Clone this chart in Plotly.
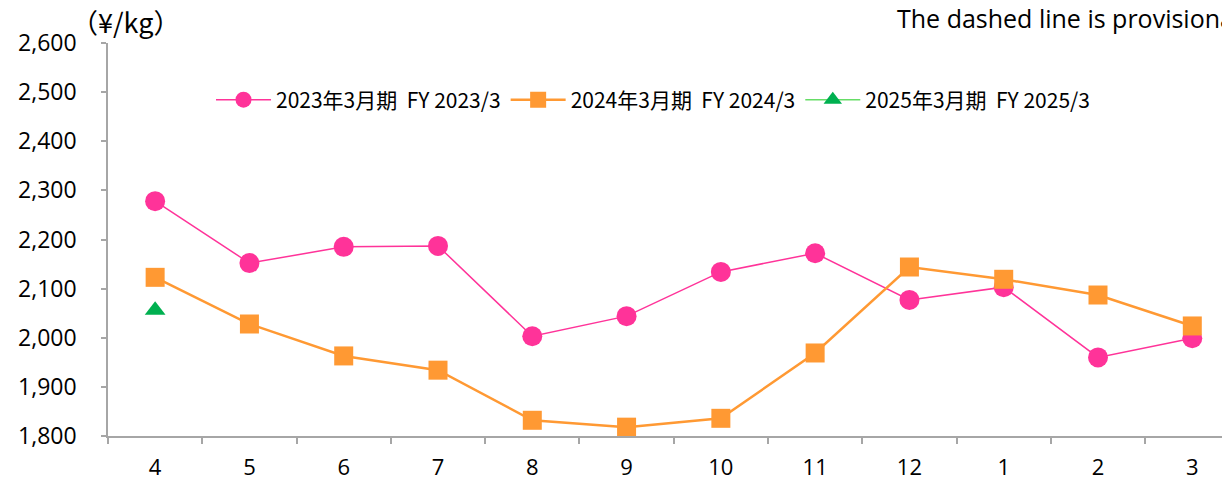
import plotly.graph_objects as go

months = ["4", "5", "6", "7", "8", "9", "10", "11", "12", "1", "2", "3"]
fy2023 = [2278, 2152, 2185, 2187, 2003, 2044, 2134, 2172, 2077, 2103, 1960, 1999]
fy2024 = [2123, 2028, 1963, 1934, 1832, 1818, 1836, 1969, 2144, 2119, 2087, 2024]
fy2025 = [2056]
names = ["2023年3月期\u00a0\u00a0FY 2023/3", "2024年3月期\u00a0\u00a0FY 2024/3",
         "2025年3月期\u00a0\u00a0FY 2025/3"]
y_ticks = [1800, 1900, 2000, 2100, 2200, 2300, 2400, 2500, 2600]

FONT = "Open Sans, Noto Sans CJK JP, sans-serif"
CJK = "Noto Sans CJK JP, Open Sans, sans-serif"

# page body has an 8px margin, so the figure is offset by (8, 8)
L, T, W, H = 100, 35, 1222, 478
PW = W - L
PH = 393

fig = go.Figure()
fig.add_trace(go.Scatter(x=months, y=fy2023, name=names[0], mode="lines+markers",
                         line=dict(color="#FF3399", width=1.5),
                         marker=dict(symbol="circle", size=20, color="#FF3399")))
fig.add_trace(go.Scatter(x=months, y=fy2024, name=names[1], mode="lines+markers",
                         line=dict(color="#FF9933", width=2.5),
                         marker=dict(symbol="square", size=19, color="#FF9933")))
fig.add_trace(go.Scatter(x=months[:len(fy2025)], y=fy2025, name=names[2], mode="lines+markers",
                         line=dict(color="#66DD66", width=1.5),
                         marker=dict(symbol="triangle-up", size=18, color="#00B050")))

fig.update_layout(
    width=W, height=H,
    margin=dict(l=L, r=0, t=T, b=H - T - PH, autoexpand=False),
    paper_bgcolor="white", plot_bgcolor="white",
    font=dict(family=FONT, size=22, color="#000000"),
    showlegend=True,
    legend=dict(orientation="h", x=(203 - L) / PW, y=(T + PH - 92) / PH,
                xanchor="left", yanchor="middle",
                font=dict(family=CJK, size=21), bgcolor="rgba(0,0,0,0)",
                itemwidth=55, tracegroupgap=0),
    xaxis=dict(type="category", range=[-0.5, 11.4], showgrid=False, automargin=False,
               showline=True, linecolor="#A6A6A6", linewidth=1.5,
               ticks="outside", tickson="boundaries", ticklen=6, tickcolor="#A6A6A6",
               tickwidth=1.5, ticklabelstandoff=11,
               tickfont=dict(size=22), fixedrange=True),
    yaxis=dict(range=[1800, 2600], tickvals=y_ticks, tickformat=",d", showgrid=False,
               automargin=False,
               showline=True, linecolor="#A6A6A6", linewidth=1.5,
               ticks="outside", ticklen=5, tickcolor="#A6A6A6", tickwidth=1.5,
               ticklabelstandoff=20,
               tickfont=dict(size=23), zeroline=False),
    annotations=[
        dict(text="（¥/kg）", xref="paper", yref="paper", x=(61 - L) / PW,
             y=(T + PH - 13) / PH, xanchor="left", yanchor="middle", showarrow=False,
             font=dict(family=CJK, size=27)),
        dict(text="The dashed line is provisional value.", xref="paper", yref="paper",
             x=(887 - L) / PW, y=(T + PH - 10) / PH, xanchor="left", yanchor="middle",
             showarrow=False, font=dict(size=25)),
    ],
)

fig.write_html("out.html")
